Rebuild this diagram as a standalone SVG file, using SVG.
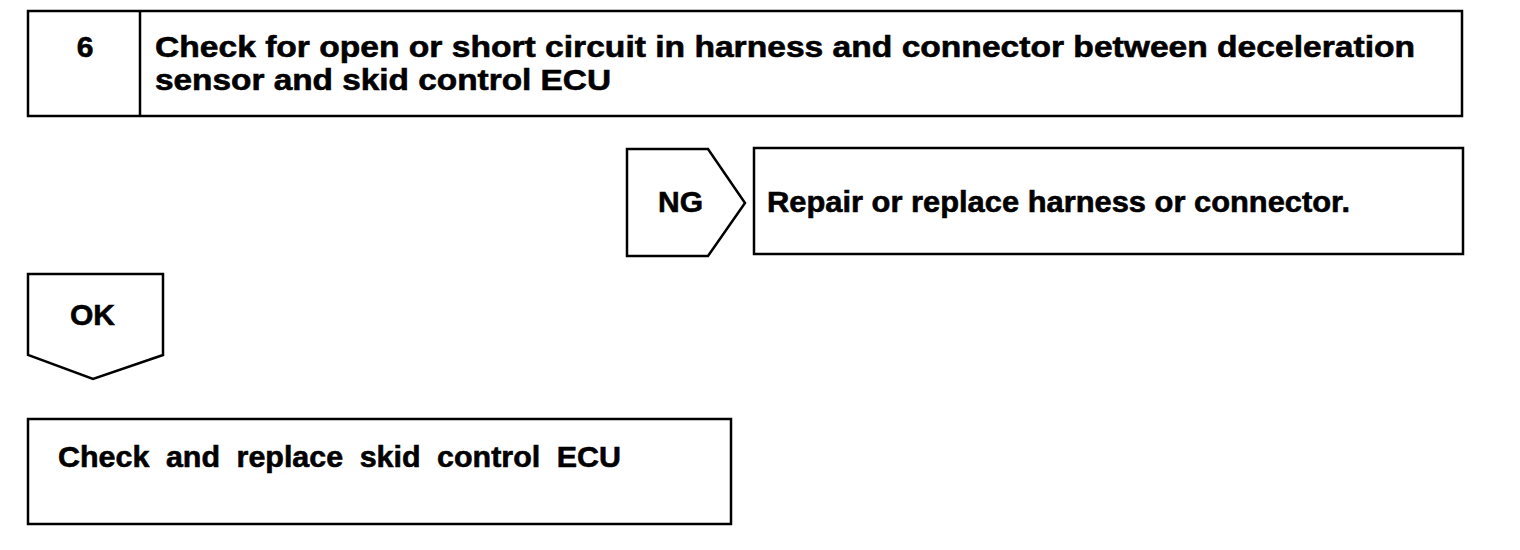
<svg xmlns="http://www.w3.org/2000/svg" width="1520" height="550" viewBox="0 0 1520 550">
<style>
.box{fill:#fff;stroke:#000;stroke-width:2.5}
.t{font-family:"Liberation Sans",Arial,sans-serif;font-weight:bold;font-size:30px;fill:#000;stroke:#000;stroke-width:0.6}
</style>
<rect width="1520" height="550" fill="#fff"/>
<g id="step6">
<rect class="box" x="28" y="11" width="1434" height="105"/>
<line class="box" x1="140" y1="11" x2="140" y2="116"/>
<text class="t" x="85" y="57" text-anchor="middle">6</text>
<text class="t" x="155" y="57" textLength="1260" lengthAdjust="spacingAndGlyphs">Check for open or short circuit in harness and connector between deceleration</text>
<text class="t" x="155" y="90" textLength="456" lengthAdjust="spacingAndGlyphs">sensor and skid control ECU</text>
</g>
<g id="connectors">
<g id="ng">
<polygon class="box" points="627,149 708,149 745,203 708,256 627,256"/>
<text class="t" x="658" y="212" textLength="45" lengthAdjust="spacingAndGlyphs">NG</text>
</g>
<g id="ok">
<polygon class="box" points="28,274 163,274 163,355 93,379 28,355"/>
<text class="t" x="70" y="325" textLength="45" lengthAdjust="spacingAndGlyphs">OK</text>
</g>
</g>
<g id="repair">
<rect class="box" x="754" y="148" width="709" height="106"/>
<text class="t" x="767" y="212" textLength="583" lengthAdjust="spacingAndGlyphs">Repair or replace harness or connector.</text>
</g>
<g id="ecu">
<rect class="box" x="28" y="419" width="703" height="105"/>
<text class="t" x="58" y="467" word-spacing="8" textLength="563" lengthAdjust="spacingAndGlyphs">Check and replace skid control ECU</text>
</g>
</svg>
